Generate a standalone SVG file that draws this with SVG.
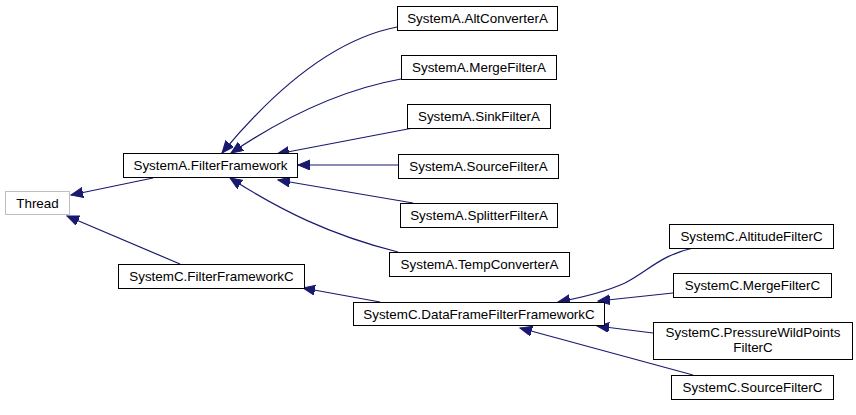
<svg xmlns="http://www.w3.org/2000/svg" width="856" height="415" viewBox="0 0 856 415">
<defs>
<marker id="ah" markerUnits="userSpaceOnUse" markerWidth="14" markerHeight="12" refX="12" refY="5" orient="auto">
<path d="M0,0 L12,5 L0,10 z" fill="#191970" stroke="#191970" stroke-width="1"/>
</marker>
<style>
.n rect{fill:#fff;stroke:#000;stroke-width:1}
.g rect{stroke:#bfbfbf}
text{font-family:"Liberation Sans",Arial,sans-serif;font-size:13.4px;fill:#000;text-anchor:middle}
#edges path{fill:none;stroke:#191970;stroke-width:1.2;marker-end:url(#ah)}
</style>
</defs>
<rect width="856" height="415" fill="#fff"/>
<g id="edges">
<path d="M153,178 L71,195"/>
<path d="M180,264 L67,216"/>
<path d="M397,27 C330,40 270,95 222,153"/>
<path d="M401,79 C340,90 280,120 231,153"/>
<path d="M413,128 L277,154"/>
<path d="M398,165 L298,165"/>
<path d="M413,203 L278,180"/>
<path d="M398,252 C330,235 280,210 230,178"/>
<path d="M380,302 L303,288"/>
<path d="M697,247 C660,255 650,270 625,283 C605,292 585,297 558,302"/>
<path d="M673,293 L598,301"/>
<path d="M653,333 L597,326"/>
<path d="M693,375 L520,328"/>
</g>
<g id="thread" class="n g"><rect x="5.5" y="191.5" width="64" height="23"/><text x="37.5" y="208">Thread</text></g>
<g id="filterframework" class="n"><rect x="123.5" y="153.5" width="174" height="24"/><text x="210.5" y="170">SystemA.FilterFramework</text></g>
<g id="filterframeworkc" class="n"><rect x="118.5" y="264.5" width="186" height="24"/><text x="211.5" y="281">SystemC.FilterFrameworkC</text></g>
<g id="altconvertera" class="n"><rect x="397.5" y="6.5" width="160" height="24"/><text x="477.5" y="23">SystemA.AltConverterA</text></g>
<g id="mergefiltera" class="n"><rect x="401.5" y="55.5" width="155" height="24"/><text x="479" y="72">SystemA.MergeFilterA</text></g>
<g id="sinkfiltera" class="n"><rect x="407.5" y="104.5" width="143" height="24"/><text x="479" y="121">SystemA.SinkFilterA</text></g>
<g id="sourcefiltera" class="n"><rect x="398.5" y="154.5" width="160" height="24"/><text x="478.5" y="171">SystemA.SourceFilterA</text></g>
<g id="splitterfiltera" class="n"><rect x="400.5" y="203.5" width="157" height="24"/><text x="479" y="220">SystemA.SplitterFilterA</text></g>
<g id="tempconvertera" class="n"><rect x="389.5" y="252.5" width="180" height="24"/><text x="479.5" y="269">SystemA.TempConverterA</text></g>
<g id="dataframefilterframeworkc" class="n"><rect x="353.5" y="302.5" width="251" height="23"/><text x="479" y="319">SystemC.DataFrameFilterFrameworkC</text></g>
<g id="altitudefilterc" class="n"><rect x="669.5" y="224.5" width="164" height="24"/><text x="751.5" y="241">SystemC.AltitudeFilterC</text></g>
<g id="mergefilterc" class="n"><rect x="673.5" y="273.5" width="158" height="24"/><text x="752.5" y="290">SystemC.MergeFilterC</text></g>
<g id="pressurewildpointsfilterc" class="n"><rect x="653.5" y="322.5" width="199" height="37"/><text x="753" y="337">SystemC.PressureWildPoints</text><text x="753" y="352">FilterC</text></g>
<g id="sourcefilterc" class="n"><rect x="671.5" y="375.5" width="162" height="24"/><text x="752.5" y="392">SystemC.SourceFilterC</text></g>
</svg>
